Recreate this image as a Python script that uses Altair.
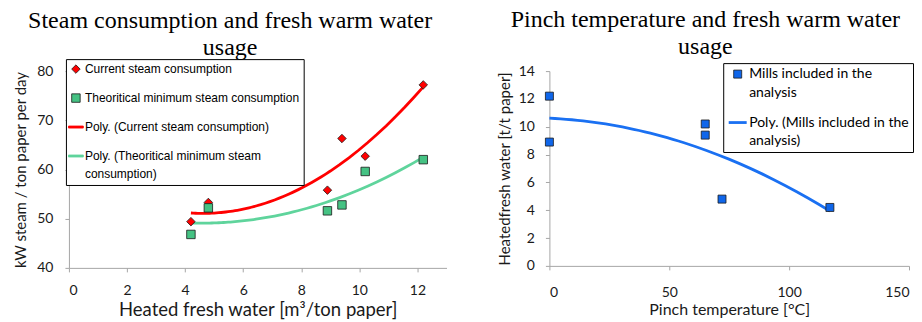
import altair as alt
import pandas as pd

# ---------------- data ----------------
# Left panel: steam consumption vs heated fresh water
water = [4.2, 4.8, 8.9, 9.4, 10.2, 12.2]
steam_current = [49.4, 53.3, 55.8, 66.3, 62.7, 77.2]
steam_minimum = [46.8, 52.2, 51.6, 52.8, 59.6, 62.0]
left_series = ["Current steam consumption", "Theoritical minimum steam consumption"]
left_trend = ["Poly. (Current steam consumption)",
              "Poly. (Theoritical minimum steam\nconsumption)"]
left_xticks = [0, 2, 4, 6, 8, 10, 12]
left_yticks = [40, 50, 60, 70, 80]

# Right panel: heated fresh water vs pinch temperature
pinch = [0, 0, 65, 65, 72, 117]
fresh = [12.2, 8.9, 10.2, 9.4, 4.8, 4.2]
right_series = ["Mills included in the\nanalysis"]
right_trend = ["Poly. (Mills included in the\nanalysis)"]
right_xticks = [0, 50, 100, 150]
right_yticks = [0, 2, 4, 6, 8, 10, 12, 14]

RED = "#ff0000"
GREEN_PT = "#45c283"
GREEN_LN = "#5fd49c"
BLUE_PT = "#0f66ea"
BLUE_LN = "#1a70f2"
OUTLINE = "#1a1a1a"
AXIS_GREY = "#a6a6a6"
TXT = "#1a1a1a"
# legend swatch for a trend line: a long thin bar (unit symbol coordinates)
LINE_SWATCH = "M-1.75,-0.24H1.75V0.24H-1.75Z"

left_df = pd.DataFrame({
    "x": water + water,
    "y": steam_current + steam_minimum,
    "series": [left_series[0]] * len(water) + [left_series[1]] * len(water),
})
right_df = pd.DataFrame({"x": pinch, "y": fresh, "series": right_series * len(pinch)})


def legend(x, y, pad, font, size, offset, rowpad, **kw):
    return alt.Legend(
        title=None, orient="none", legendX=x, legendY=y,
        strokeColor="black", fillColor="white", padding=pad,
        labelFont=font, labelFontSize=size, labelColor="black",
        labelLimit=400, labelOffset=offset, rowPadding=rowpad,
        labelExpr="split(datum.label, '\\n')", symbolOpacity=1, **kw,
    )


def title(lines, offset):
    return alt.TitleParams(lines, font="Liberation Serif", fontSize=24, fontWeight="normal",
                           lineHeight=27, anchor="middle", frame="bounds", offset=offset,
                           color="black")


# ---------------- left chart ----------------
ldom = left_series + left_trend
lleg = legend(-3, -12, 4, "Liberation Sans", 12, 3, 17, symbolSize=72, symbolStrokeWidth=0.8)
lx = alt.X("x:Q", scale=alt.Scale(domain=[0, 13], nice=False),
           axis=alt.Axis(values=left_xticks, title="Heated fresh water [m³/ton paper]",
                         labelPadding=12, titlePadding=3, titleFontSize=18.5))
ly = alt.Y("y:Q", scale=alt.Scale(domain=[40, 80], nice=False),
           axis=alt.Axis(values=left_yticks, title="kW steam / ton paper per day",
                         labelPadding=12, titlePadding=8, titleFontSize=15))

left_lines = [
    alt.Chart(left_df).transform_filter(alt.datum.series == name).transform_regression(
        "x", "y", method="poly", order=2
    ).mark_line(strokeWidth=2.8, color=col).encode(x=lx, y=ly)
    for name, col in zip(left_series, [RED, GREEN_LN])
]
left_pts = alt.Chart(left_df).mark_point(filled=True, opacity=1, size=72, strokeWidth=0.8).encode(
    x=lx, y=ly,
    color=alt.Color("series:N", scale=alt.Scale(domain=ldom, range=[RED, GREEN_PT, RED, GREEN_LN]), legend=lleg),
    stroke=alt.Stroke("series:N", scale=alt.Scale(domain=ldom, range=[OUTLINE, OUTLINE, RED, GREEN_LN]), legend=lleg),
    shape=alt.Shape("series:N", scale=alt.Scale(domain=ldom, range=["diamond", "square", LINE_SWATCH, LINE_SWATCH]), legend=lleg),
)
left = alt.layer(*left_lines, left_pts).properties(
    width=378, height=197,
    title=title(["Steam consumption and fresh warm water", "usage"], -1),
)

# ---------------- right chart ----------------
rdom = right_series + right_trend
rleg = legend(174, -8, 4, "Lato", 14, 1, 12)
rx = alt.X("x:Q", scale=alt.Scale(domain=[0, 150], nice=False),
           axis=alt.Axis(values=right_xticks, title="Pinch temperature [°C]",
                         labelPadding=16, titlePadding=2, titleFontSize=16))
ry = alt.Y("y:Q", scale=alt.Scale(domain=[0, 14], nice=False),
           axis=alt.Axis(values=right_yticks, title="Heatedfresh water [t/t paper]",
                         labelPadding=11, titlePadding=6, titleFontSize=15))

right_lines = alt.Chart(right_df).transform_regression(
    "x", "y", method="poly", order=2
).mark_line(strokeWidth=2.8, color=BLUE_LN).encode(x=rx, y=ry)
right_pts = alt.Chart(right_df).mark_point(filled=True, opacity=1).encode(
    x=rx, y=ry,
    color=alt.Color("series:N", scale=alt.Scale(domain=rdom, range=[BLUE_PT, BLUE_LN]), legend=rleg),
    stroke=alt.Stroke("series:N", scale=alt.Scale(domain=rdom, range=[OUTLINE, BLUE_LN]), legend=rleg),
    shape=alt.Shape("series:N", scale=alt.Scale(domain=rdom, range=["square", "stroke"]), legend=rleg),
    size=alt.Size("series:N", scale=alt.Scale(domain=rdom, range=[64, 324]), legend=rleg),
    strokeWidth=alt.StrokeWidth("series:N", scale=alt.Scale(domain=rdom, range=[0.8, 2.8]), legend=rleg),
)
right = alt.layer(right_lines, right_pts).properties(
    width=360, height=195,
    title=title(["Pinch temperature and fresh warm water", "usage"], 3.5),
)

chart = alt.hconcat(left, right, spacing=103, bounds="flush").resolve_scale(
    color="independent", stroke="independent", shape="independent",
    size="independent", strokeWidth="independent", x="independent", y="independent",
).resolve_legend(
    color="independent", stroke="independent", shape="independent",
    size="independent", strokeWidth="independent",
).properties(
    padding={"left": 5, "top": 0, "right": 0, "bottom": 0}
).configure(
    style={"guide-label": {"lineHeight": 18.5}}
).configure_view(stroke=None).configure_axis(
    grid=False, domainColor=AXIS_GREY, tickColor=AXIS_GREY, tickSize=4,
    labelFont="Lato", labelFontSize=14, labelColor=TXT,
    titleFont="Lato", titleFontWeight="normal", titleColor=TXT,
)

chart.save("out.html", embed_options={"renderer": "svg", "actions": False})
